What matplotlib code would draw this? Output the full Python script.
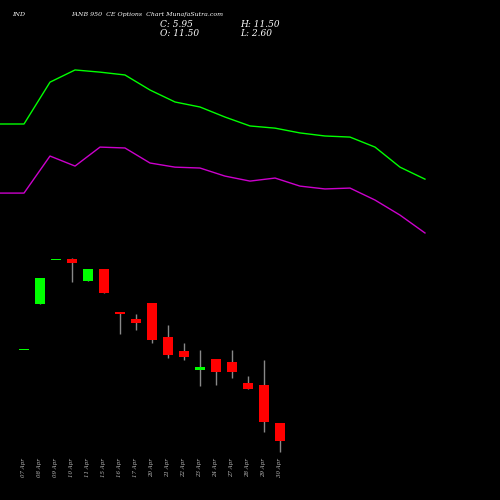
import matplotlib
matplotlib.use("Agg")
import matplotlib.pyplot as plt
import matplotlib.transforms as mtransforms

dates = ["07 Apr","08 Apr","09 Apr","10 Apr","11 Apr","15 Apr","16 Apr","17 Apr","20 Apr",
         "21 Apr","22 Apr","23 Apr","24 Apr","27 Apr","28 Apr","29 Apr","30 Apr"]
opens  = [7.28, 9.39, 11.41, 11.45, 10.44, 10.99, 8.98, 8.70, 9.44, 7.88, 7.23, 6.36, 6.87, 6.73, 5.77, 5.67, 3.93]
highs  = [7.28, 10.58, 11.41, 11.50, 10.99, 10.99, 8.98, 8.93, 9.44, 8.43, 7.60, 7.28, 6.87, 7.28, 6.09, 6.82, 3.93]
lows   = [7.28, 9.39, 11.41, 10.40, 10.44, 9.89, 8.01, 8.20, 7.60, 6.91, 6.82, 5.63, 5.67, 5.99, 5.49, 3.52, 2.60]
closes = [7.28, 10.58, 11.41, 11.27, 10.99, 9.89, 8.95, 8.52, 7.74, 7.05, 6.96, 6.50, 6.27, 6.27, 5.49, 3.98, 3.10]

line_x = [-1.5, 0, 1.625, 3.19, 4.75, 6.31, 7.875, 9.44, 11.0, 12.56, 14.125, 15.69, 17.25, 18.81, 20.375, 21.94, 23.5, 25.06]
green_line = [17.65, 17.65, 19.57, 20.13, 20.03, 19.90, 19.21, 18.66, 18.43, 17.97, 17.56, 17.46, 17.24, 17.10, 17.05, 16.59, 15.67, 15.12]
magenta_line = [14.48, 14.48, 16.18, 15.72, 16.59, 16.55, 15.86, 15.67, 15.63, 15.26, 15.03, 15.17, 14.80, 14.67, 14.71, 14.16, 13.47, 12.65]

fig = plt.figure(figsize=(5, 5), dpi=100, facecolor="black")
ax = fig.add_axes([0, 0, 1, 1], facecolor="black")
ax.set_xlim(-1.5, 29.75)
ax.set_ylim(0.397, 23.34)
ax.axis("off")

ax.plot(line_x, green_line, color="#00ff00", lw=1)
ax.plot(line_x, magenta_line, color="#cc00cc", lw=1)

for i in range(len(dates)):
    o, h, l, c = opens[i], highs[i], lows[i], closes[i]
    col = "#00ff00" if c > o or (i in (0, 2)) else "#ff0000"
    ax.vlines(i, l, h, color="#888888", lw=1, zorder=1)
    bot, top = min(o, c), max(o, c)
    hgt = max(top - bot, 0.06)
    ax.bar(i, hgt, bottom=bot, width=0.6, color=col, zorder=2)

trans = mtransforms.blended_transform_factory(ax.transData, ax.transAxes)
for i, d in enumerate(dates):
    ax.text(i, 0.065, d, rotation=90, transform=trans, color="#bbbbbb",
            fontsize=4, ha="center", va="center", family="DejaVu Serif", style="italic")

tf = dict(color="white", family="DejaVu Serif", style="italic")
fig.text(0.024, 0.968, "IND", fontsize=4.5, **tf)
fig.text(0.142, 0.968, "IANB 950  CE Options  Chart MunafaSutra.com", fontsize=4.5, **tf)
fig.text(0.32, 0.946, "C: 5.95", fontsize=6.5, **tf)
fig.text(0.32, 0.929, "O: 11.50", fontsize=6.5, **tf)
fig.text(0.48, 0.946, "H: 11.50", fontsize=6.5, **tf)
fig.text(0.48, 0.929, "L: 2.60", fontsize=6.5, **tf)

fig.savefig("out.png", dpi=100, facecolor="black")
